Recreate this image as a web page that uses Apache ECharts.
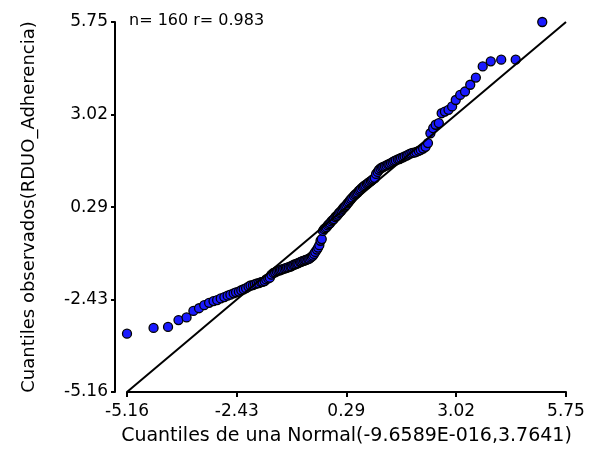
<!DOCTYPE html>
<html>
<head>
<meta charset="utf-8">
<script src="https://cdn.jsdelivr.net/npm/echarts@6/dist/echarts.min.js"></script>
<style>
html,body{margin:0;padding:0;background:#fff;}
#chart{width:603px;height:457px;}
</style>
</head>
<body>
<div id="chart"></div>
<script>
var theoretical = [
 -5.16,-4.50,-4.14,-3.88,-3.68,-3.51,-3.37,-3.24,-3.12,-3.01,
 -2.92,-2.83,-2.74,-2.66,-2.59,-2.51,-2.45,-2.38,-2.32,-2.26,
 -2.20,-2.14,-2.09,-2.03,-1.98,-1.93,-1.88,-1.83,-1.79,-1.74,
 -1.70,-1.65,-1.61,-1.57,-1.52,-1.48,-1.44,-1.40,-1.36,-1.33,
 -1.29,-1.25,-1.21,-1.18,-1.14,-1.10,-1.07,-1.03,-1.00,-0.96,
 -0.93,-0.90,-0.86,-0.83,-0.80,-0.76,-0.73,-0.70,-0.66,-0.63,
 -0.60,-0.57,-0.54,-0.51,-0.48,-0.44,-0.41,-0.38,-0.35,-0.32,
 -0.29,-0.26,-0.23,-0.20,-0.17,-0.14,-0.11,-0.08,-0.05,-0.02,
 0.02,0.05,0.08,0.11,0.14,0.17,0.20,0.23,0.26,0.29,
 0.32,0.35,0.38,0.41,0.44,0.48,0.51,0.54,0.57,0.60,
 0.63,0.66,0.70,0.73,0.76,0.80,0.83,0.86,0.90,0.93,
 0.96,1.00,1.03,1.07,1.10,1.14,1.18,1.21,1.25,1.29,
 1.33,1.36,1.40,1.44,1.48,1.52,1.57,1.61,1.65,1.70,
 1.74,1.79,1.83,1.88,1.93,1.98,2.03,2.09,2.14,2.20,
 2.26,2.32,2.38,2.45,2.51,2.59,2.66,2.74,2.83,2.92,
 3.01,3.12,3.24,3.37,3.51,3.68,3.88,4.14,4.50,5.16
];
var observed = [
 -3.44,-3.27,-3.24,-3.04,-2.96,-2.77,-2.69,-2.60,-2.53,-2.48,
 -2.45,-2.40,-2.36,-2.32,-2.29,-2.25,-2.22,-2.20,-2.16,-2.13,
 -2.10,-2.05,-2.02,-2.01,-1.98,-1.96,-1.95,-1.92,-1.91,-1.89,
 -1.84,-1.81,-1.79,-1.70,-1.65,-1.63,-1.60,-1.58,-1.57,-1.55,
 -1.54,-1.52,-1.51,-1.49,-1.48,-1.46,-1.45,-1.42,-1.40,-1.39,
 -1.37,-1.36,-1.33,-1.32,-1.30,-1.29,-1.27,-1.26,-1.24,-1.23,
 -1.20,-1.17,-1.14,-1.09,-1.03,-0.96,-0.90,-0.83,-0.70,-0.65,
 -0.41,-0.36,-0.33,-0.30,-0.25,-0.21,-0.18,-0.13,-0.09,-0.06,
 0.00,0.03,0.07,0.12,0.15,0.19,0.24,0.28,0.31,0.35,
 0.40,0.44,0.49,0.53,0.57,0.62,0.66,0.69,0.72,0.77,
 0.80,0.84,0.88,0.91,0.94,0.97,1.00,1.03,1.06,1.09,
 1.12,1.15,1.27,1.33,1.39,1.43,1.46,1.48,1.50,1.52,
 1.55,1.56,1.59,1.62,1.65,1.67,1.70,1.71,1.74,1.76,
 1.79,1.81,1.84,1.87,1.89,1.90,1.92,1.95,1.98,2.02,
 2.07,2.18,2.47,2.62,2.72,2.77,3.06,3.11,3.16,3.26,
 3.45,3.60,3.70,3.90,4.11,4.44,4.59,4.64,4.64,5.75
];
var refLine = [-5.16, 5.75];
var xTicks = [-5.16, -2.43, 0.29, 3.02, 5.75];
var yTicks = [-5.16, -2.43, 0.29, 3.02, 5.75];
var statsText = 'n= 160 r= 0.983';
var xTitle = 'Cuantiles de una Normal(-9.6589E-016,3.7641)';
var yTitle = 'Cuantiles observados(RDUO_Adherencia)';

var points = theoretical.map(function (x, i) { return [x, observed[i]]; });
var lineData = refLine.map(function (v) { return [v, v]; });

var FONT = 'DejaVu Sans';
var chart = echarts.init(document.getElementById('chart'), null, {renderer: 'canvas'});
chart.setOption({
  animation: false,
  backgroundColor: '#ffffff',
  grid: {left: 127, right: 37, top: 22, bottom: 65, containLabel: false},
  graphic: [{
    type: 'text', left: 129, top: 13,
    style: {text: statsText, font: '16px "' + FONT + '"', fill: '#000'}
  }],
  xAxis: {
    type: 'value', min: -5.16, max: 5.75,
    name: xTitle, nameLocation: 'middle', nameGap: 35,
    nameTextStyle: {fontFamily: FONT, fontSize: 19, color: '#000'},
    axisLine: {show: true, onZero: false, lineStyle: {color: '#000', width: 2}},
    axisTick: {show: true, inside: false, length: 5, customValues: xTicks, lineStyle: {color: '#000', width: 2}},
    axisLabel: {show: true, customValues: xTicks, margin: 11, fontFamily: FONT, fontSize: 17, color: '#000',
      formatter: function (v) { return Number(v).toFixed(2); }},
    splitLine: {show: false}
  },
  yAxis: {
    type: 'value', min: -5.16, max: 5.75, offset: 12,
    name: yTitle, nameLocation: 'middle', nameGap: 77, nameRotate: 90,
    nameTextStyle: {fontFamily: FONT, fontSize: 18, color: '#000'},
    axisLine: {show: true, onZero: false, lineStyle: {color: '#000', width: 2}},
    axisTick: {show: true, inside: false, length: 4, customValues: yTicks, lineStyle: {color: '#000', width: 2}},
    axisLabel: {show: true, customValues: yTicks, margin: 7, fontFamily: FONT, fontSize: 17, color: '#000',
      formatter: function (v) { return Number(v).toFixed(2); }},
    splitLine: {show: false}
  },
  series: [{
    type: 'scatter',
    data: points,
    symbol: 'circle', symbolSize: 9,
    itemStyle: {color: '#1a1aff', borderColor: '#000', borderWidth: 1.3, opacity: 1},
    z: 2
  }, {
    type: 'line',
    data: lineData,
    showSymbol: false, symbol: 'none',
    lineStyle: {color: '#000', width: 2},
    z: 3
  }]
});
</script>
</body>
</html>
